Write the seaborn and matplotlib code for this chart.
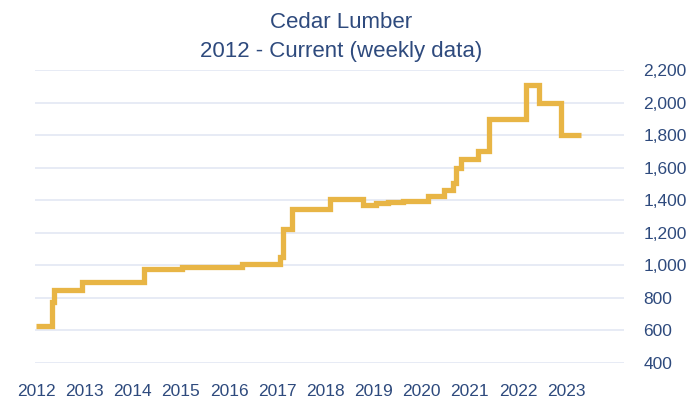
import pandas as pd
import seaborn as sns
import matplotlib.pyplot as plt

# Weekly price changes (year as decimal, price)
week_year = [2012.00, 2012.33, 2012.37, 2012.95, 2014.24, 2015.02, 2016.26, 2017.05,
             2017.12, 2017.30, 2018.10, 2018.79, 2019.06, 2019.31, 2019.62, 2020.14,
             2020.47, 2020.65, 2020.72, 2020.82, 2021.17, 2021.40, 2022.17, 2022.43,
             2022.89, 2023.30]
price = [630, 775, 850, 900, 980, 990, 1010, 1050, 1225, 1345, 1410, 1370, 1380,
         1390, 1395, 1425, 1460, 1505, 1600, 1655, 1705, 1900, 2105, 2000, 1800, 1800]
years = list(range(2012, 2024))
y_ticks = list(range(400, 2201, 200))

df = pd.DataFrame({'year': week_year, 'price': price})

sns.set_style('white')
plt.rcParams['font.family'] = ['Liberation Sans', 'DejaVu Sans']
navy = '#2E4A7D'

fig = plt.figure(figsize=(7, 4.01), dpi=100)
ax = fig.add_axes([35 / 700, 1 - 363 / 401, (624 - 35) / 700, (363 - 70) / 401])

sns.lineplot(data=df, x='year', y='price', ax=ax, color='#E8B545', linewidth=3.8,
             drawstyle='steps-post', solid_joinstyle='miter', solid_capstyle='butt')

ax.set_xlim(2011.97, 2024.2)
ax.set_ylim(400, 2200)
ax.set_xticks(years)
ax.set_yticks(y_ticks)
ax.set_yticklabels([f'{v:,}' for v in y_ticks])
ax.yaxis.tick_right()
ax.grid(axis='y', color='#E3E8F3', linewidth=1.2)
ax.set_axisbelow(True)
for s in ax.spines.values():
    s.set_visible(False)
ax.tick_params(axis='both', length=0, labelsize=12.5, colors=navy)
ax.tick_params(axis='y', pad=14)
ax.tick_params(axis='x', pad=15)
ax.set_xlabel('')
ax.set_ylabel('')

fig.text(341 / 700, 1 - 23 / 401, 'Cedar Lumber', ha='center', va='center',
         fontsize=16, color=navy)
fig.text(341 / 700, 1 - 52 / 401, '2012 - Current (weekly data)', ha='center',
         va='center', fontsize=16, color=navy)

fig.savefig('out.png', dpi=100)
